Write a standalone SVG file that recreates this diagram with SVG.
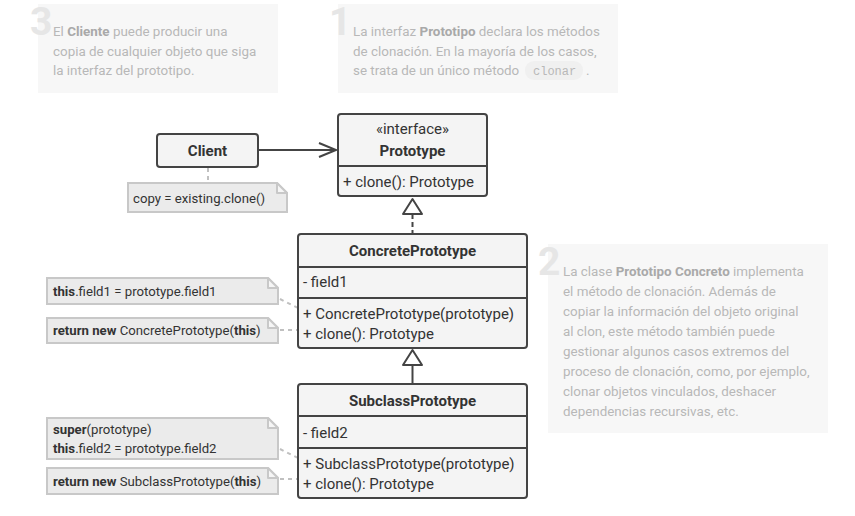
<svg xmlns="http://www.w3.org/2000/svg" width="855" height="516" viewBox="0 0 855 516">
<style>
.info{fill:#f7f7f7}
.num{font-family:Roboto,"Liberation Sans",sans-serif;font-weight:bold;font-size:39px;fill:#e6e6e6}
.it{font-family:Roboto,"Liberation Sans",sans-serif;font-size:13.4px;fill:#b8b8b8}
.itb{font-weight:bold;fill:#a9a9a9}
.box{fill:#f4f4f4;stroke:#444;stroke-width:2}
.div{stroke:#444;stroke-width:2;fill:none}
.t{font-family:Roboto,"Liberation Sans",sans-serif;font-size:15px;fill:#333}
.tb{font-family:Roboto,"Liberation Sans",sans-serif;font-size:15px;font-weight:bold;fill:#333}
.note{fill:#ebebeb;stroke:#c8c8c8;stroke-width:2}
.fold{fill:#f6f6f6;stroke:#c8c8c8;stroke-width:2;stroke-linejoin:round}
.nt{font-family:Roboto,"Liberation Sans",sans-serif;font-size:13.2px;fill:#333}
.nb{font-weight:bold}
.dot{stroke:#c0c0c0;stroke-width:2;stroke-dasharray:4 4;fill:none}
.line{stroke:#444;stroke-width:2;fill:none}
</style>

<g id="info3">
<rect class="info" x="38" y="4" width="240" height="89"/>
<text class="num" x="30" y="35">3</text>
<text class="it" x="53" y="35.5">El <tspan class="itb">Cliente</tspan> puede producir una</text>
<text class="it" x="53" y="55.5">copia de cualquier objeto que siga</text>
<text class="it" x="53" y="75">la interfaz del prototipo.</text>
</g>

<g id="info1">
<rect class="info" x="338" y="4" width="280" height="89"/>
<text class="num" x="329" y="35">1</text>
<text class="it" x="353" y="35.5">La interfaz <tspan class="itb">Prototipo</tspan> declara los métodos</text>
<text class="it" x="353" y="55.5">de clonación. En la mayoría de los casos,</text>
<rect x="525" y="61" width="58" height="19" rx="9" fill="#f0f0f0"/>
<text class="it" x="353" y="75">se trata de un único método</text>
<text x="533" y="75" font-family="'Liberation Mono','DejaVu Sans Mono',monospace" font-size="12" fill="#b8b8b8">clonar</text>
<text class="it" x="586" y="75">.</text>
</g>

<g id="info2">
<rect class="info" x="548" y="244" width="280" height="189"/>
<text class="num" x="538" y="275">2</text>
<text class="it" x="563" y="275.5">La clase <tspan class="itb">Prototipo Concreto</tspan> implementa</text>
<text class="it" x="563" y="295.5">el método de clonación. Además de</text>
<text class="it" x="563" y="315.5">copiar la información del objeto original</text>
<text class="it" x="563" y="335.5">al clon, este método también puede</text>
<text class="it" x="563" y="355.5">gestionar algunos casos extremos del</text>
<text class="it" x="563" y="375.5">proceso de clonación, como, por ejemplo,</text>
<text class="it" x="563" y="395.5">clonar objetos vinculados, deshacer</text>
<text class="it" x="563" y="415.5">dependencias recursivas, etc.</text>
</g>

<g id="connectors">
<line class="dot" x1="208" y1="168" x2="208" y2="183"/>
<line class="line" x1="258" y1="150" x2="336" y2="150"/>
<polyline class="line" points="319,143 336,150 319,157"/>
<line class="line" x1="412.5" y1="214" x2="412.5" y2="234" stroke-dasharray="5 3"/>
<polygon points="412.5,199 403,214 422,214" fill="#fff" stroke="#444" stroke-width="2" stroke-linejoin="round"/>
<line class="line" x1="412.5" y1="365" x2="412.5" y2="384"/>
<polygon points="412.5,350 403,365 422,365" fill="#fff" stroke="#444" stroke-width="2" stroke-linejoin="round"/>
<line class="dot" x1="280" y1="299" x2="298" y2="308"/>
<line class="dot" x1="280" y1="330" x2="298" y2="330"/>
<line class="dot" x1="280" y1="449" x2="298" y2="458"/>
<line class="dot" x1="280" y1="479" x2="298" y2="479"/>
</g>

<g id="client">
<rect class="box" x="157" y="134" width="101" height="33" rx="3"/>
<text class="tb" x="207.5" y="155.5" text-anchor="middle">Client</text>
</g>

<g id="prototype">
<rect class="box" x="338" y="114" width="149" height="82" rx="3"/>
<line class="div" x1="338" y1="166" x2="487" y2="166"/>
<text class="t" x="412.5" y="134" text-anchor="middle">«interface»</text>
<text class="tb" x="412.5" y="156" text-anchor="middle">Prototype</text>
<text class="t" x="343" y="187">+ clone(): Prototype</text>
</g>

<g id="concretePrototype">
<rect class="box" x="298" y="234" width="229" height="114" rx="3"/>
<line class="div" x1="298" y1="267" x2="527" y2="267"/>
<line class="div" x1="298" y1="298" x2="527" y2="298"/>
<text class="tb" x="412.5" y="256" text-anchor="middle">ConcretePrototype</text>
<text class="t" x="303" y="287">- field1</text>
<text class="t" x="303" y="319">+ ConcretePrototype(prototype)</text>
<text class="t" x="303" y="338.5">+ clone(): Prototype</text>
</g>

<g id="subclassPrototype">
<rect class="box" x="298" y="384" width="229" height="114" rx="3"/>
<line class="div" x1="298" y1="416" x2="527" y2="416"/>
<line class="div" x1="298" y1="448" x2="527" y2="448"/>
<text class="tb" x="412.5" y="406" text-anchor="middle">SubclassPrototype</text>
<text class="t" x="303" y="438">- field2</text>
<text class="t" x="303" y="469">+ SubclassPrototype(prototype)</text>
<text class="t" x="303" y="488.5">+ clone(): Prototype</text>
</g>

<g id="note-client">
<path class="note" d="M128,183 H277 L287,193 V212 H128 Z"/>
<path class="fold" d="M277,183 V193 H287 Z"/>
<text class="nt" x="133" y="202.5">copy = existing.clone()</text>
</g>

<g id="note-cp1">
<path class="note" d="M47,278 H268 L278,288 V304 H47 Z"/>
<path class="fold" d="M268,278 V288 H278 Z"/>
<text class="nt" x="53" y="296">
<tspan class="nb">this</tspan>.field1 = prototype.field1</text>
</g>

<g id="note-cp2">
<path class="note" d="M47,318 H268 L278,328 V343 H47 Z"/>
<path class="fold" d="M268,318 V328 H278 Z"/>
<text class="nt" x="53" y="335"><tspan class="nb">return new</tspan> ConcretePrototype(<tspan class="nb">this</tspan>)</text>
</g>

<g id="note-sp1">
<path class="note" d="M47,418 H268 L278,428 V459 H47 Z"/>
<path class="fold" d="M268,418 V428 H278 Z"/>
<text class="nt" x="53" y="434"><tspan class="nb">super</tspan>(prototype)</text>
<text class="nt" x="53" y="452.5"><tspan class="nb">this</tspan>.field2 = prototype.field2</text>
</g>

<g id="note-sp2">
<path class="note" d="M47,468 H268 L278,478 V494 H47 Z"/>
<path class="fold" d="M268,468 V478 H278 Z"/>
<text class="nt" x="53" y="485.5"><tspan class="nb">return new</tspan> SubclassPrototype(<tspan class="nb">this</tspan>)</text>
</g>
</svg>
